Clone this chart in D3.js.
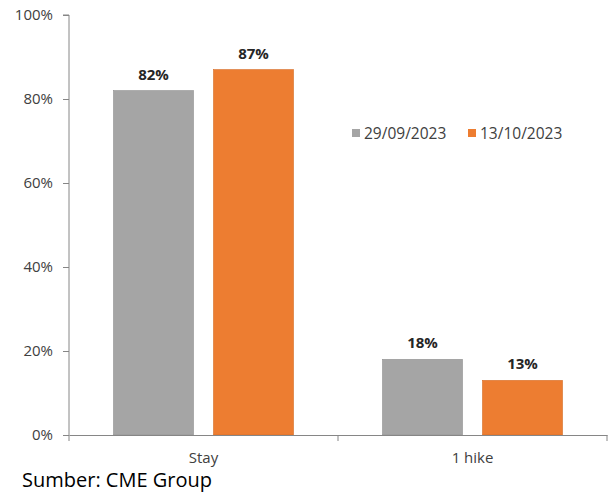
<!DOCTYPE html>
<html><head><meta charset="utf-8">
<script src="https://cdn.jsdelivr.net/npm/d3@7"></script>
<style>body{margin:0;background:#fff}svg{display:block;font-family:"Open Sans",sans-serif}</style>
</head><body>
<script>
const categories = ["Stay", "1 hike"];
const seriesNames = ["29/09/2023", "13/10/2023"];
const series1 = [82, 18];
const series2 = [87, 13];
const yTicks = [0, 20, 40, 60, 80, 100];
const colors = ["#A5A5A5", "#ED7D31"];
const strokes = ["#8f8f8f", "#d66d26"];

const W = 614, H = 496;
const svg = d3.select("body").append("svg").attr("width", W).attr("height", H);
const x0 = 69, x1 = 607, yTop = 15, yBot = 435;

const x = d3.scaleBand().domain(categories).range([x0, x1]).paddingInner(0).paddingOuter(0);
const xs = d3.scaleBand().domain([0, 1]).range([0, x.bandwidth()]).paddingInner(0.2).paddingOuter(0.445);
const y = d3.scaleLinear().domain([0, 100]).range([yBot, yTop]);

// y axis
const yAxis = d3.axisLeft(y).tickValues(yTicks).tickSize(6).tickFormat(d => d + "%");
const gy = svg.append("g").attr("transform", `translate(${x0},0)`).call(yAxis);
gy.select(".domain").attr("stroke", "#868686").attr("d", `M-6,${yTop}H0V${yBot}`);
gy.selectAll(".tick line").attr("stroke", "#868686");
gy.selectAll(".tick text").attr("fill", "#404040").attr("font-size", 15).attr("x", -16).attr("font-family", "Open Sans");

// bars
categories.forEach((c, i) => {
  [series1, series2].forEach((s, j) => {
    const bx = x(c) + xs(j);
    svg.append("rect").attr("x", bx).attr("y", y(s[i])).attr("width", xs.bandwidth())
      .attr("height", yBot - y(s[i])).attr("fill", colors[j]).attr("stroke", strokes[j]).attr("stroke-width", 0.6);
    svg.append("text").attr("x", bx + xs.bandwidth() / 2).attr("y", y(s[i]) - 11)
      .attr("text-anchor", "middle").attr("font-size", 15).attr("font-weight", "bold")
      .attr("fill", "#262626").text(s[i] + "%");
  });
});

// x axis
const xAxis = d3.axisBottom(x).tickSize(0);
const gx = svg.append("g").attr("transform", `translate(0,${yBot})`).call(xAxis);
gx.select(".domain").attr("stroke", "#868686");
gx.selectAll(".tick text").attr("fill", "#404040").attr("font-size", 15).attr("dy", null).attr("y", 28).attr("font-family", "Open Sans");
const bounds = [x0, x(categories[1]), x1];
svg.append("g").selectAll("line").data(bounds).join("line")
  .attr("x1", d => d).attr("x2", d => d).attr("y1", yBot).attr("y2", yBot + 6)
  .attr("stroke", "#868686");

// legend
const lg = svg.append("g");
const legX = [352, 468];
seriesNames.forEach((n, j) => {
  lg.append("rect").attr("x", legX[j]).attr("y", 129).attr("width", 8).attr("height", 8).attr("fill", colors[j]);
  lg.append("text").attr("x", legX[j] + 12).attr("y", 138.5).attr("font-size", 15.5).attr("fill", "#404040").text(n);
});

// source
svg.append("text").attr("x", 22).attr("y", 487).attr("font-size", 20).attr("fill", "#000").text("Sumber: CME Group");
</script>
</body></html>
